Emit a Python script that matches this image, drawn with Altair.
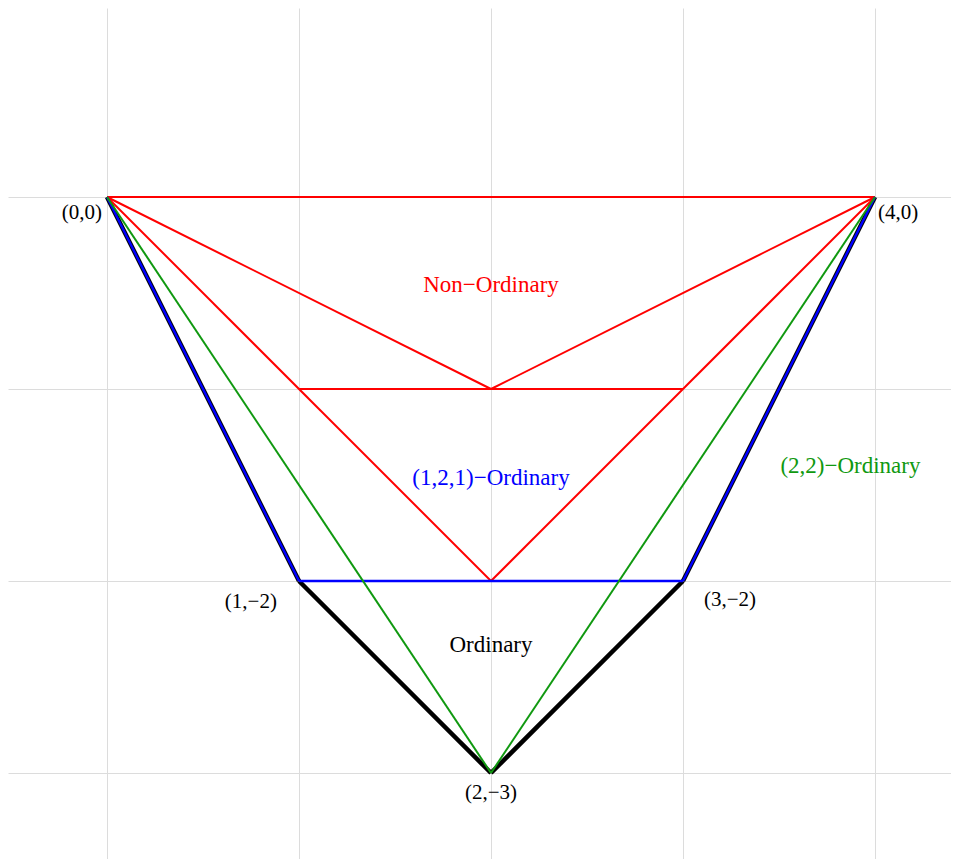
import altair as alt
import pandas as pd

# Segment data (x, y, x2, y2) per group
black_x  = [0, 1, 2, 3]
black_y  = [0, -2, -3, -2]
black_x2 = [1, 2, 3, 4]
black_y2 = [-2, -3, -2, 0]

red_x  = [0, 0, 2, 0, 4, 1]
red_y  = [0, 0, -1, 0, 0, -1]
red_x2 = [4, 2, 4, 2, 2, 3]
red_y2 = [0, -1, 0, -2, -2, -1]

blue_x  = [0, 1, 3]
blue_y  = [0, -2, -2]
blue_x2 = [1, 3, 4]
blue_y2 = [-2, -2, 0]

green_x  = [0, 2]
green_y  = [0, -3]
green_x2 = [2, 4]
green_y2 = [-3, 0]

# Point labels
pt_text  = ["(0,0)", "(4,0)", "(1,\u22122)", "(3,\u22122)", "(2,\u22123)"]
pt_x     = [-0.026, 4.016, 0.885, 3.109, 2.0]
pt_y     = [-0.083, -0.083, -2.109, -2.099, -3.104]
pt_align = ["right", "left", "right", "left", "center"]

# Region labels
rg_text  = ["Non\u2212Ordinary", "(1,2,1)\u2212Ordinary", "Ordinary", "(2,2)\u2212Ordinary"]
rg_x     = [2.0, 2.0, 2.0, 3.872]
rg_y     = [-0.458, -1.464, -2.333, -1.401]
rg_color = ["#ff0000", "#0000ff", "#000000", "#109910"]

xdom = [-0.515625, 4.395833]
ydom = [-3.447917, 0.984375]

xs = alt.Scale(domain=xdom, nice=False, zero=False)
ys = alt.Scale(domain=ydom, nice=False, zero=False)
xaxis = alt.Axis(values=[0, 1, 2, 3, 4], labels=False, ticks=False, domain=False,
                 title=None, grid=True, gridColor="#dcdcdc", gridWidth=1)
yaxis = alt.Axis(values=[0, -1, -2, -3], labels=False, ticks=False, domain=False,
                 title=None, grid=True, gridColor="#dcdcdc", gridWidth=1)


def seg_layer(x, y, x2, y2, color, width):
    df = pd.DataFrame({"x": x, "y": y, "x2": x2, "y2": y2})
    return alt.Chart(df).mark_rule(color=color, strokeWidth=width, strokeCap="butt").encode(
        x=alt.X("x:Q", scale=xs, axis=xaxis),
        y=alt.Y("y:Q", scale=ys, axis=yaxis),
        x2="x2:Q",
        y2="y2:Q",
    )


black = seg_layer(black_x, black_y, black_x2, black_y2, "#000000", 4.5)
red = seg_layer(red_x, red_y, red_x2, red_y2, "#ff0000", 2)
blue = seg_layer(blue_x, blue_y, blue_x2, blue_y2, "#0000ff", 2.5)
green = seg_layer(green_x, green_y, green_x2, green_y2, "#109910", 2)

pt_layers = []
for t, x, y, a in zip(pt_text, pt_x, pt_y, pt_align):
    pt_layers.append(
        alt.Chart(pd.DataFrame({"x": [x], "y": [y], "t": [t]})).mark_text(
            font="Liberation Serif", fontSize=21, align=a, baseline="middle", color="#000000"
        ).encode(x=alt.X("x:Q", scale=xs, axis=xaxis), y=alt.Y("y:Q", scale=ys, axis=yaxis), text="t:N")
    )

rg_layers = []
for t, x, y, c in zip(rg_text, rg_x, rg_y, rg_color):
    rg_layers.append(
        alt.Chart(pd.DataFrame({"x": [x], "y": [y], "t": [t]})).mark_text(
            font="Liberation Serif", fontSize=23, align="center", baseline="middle", color=c
        ).encode(x=alt.X("x:Q", scale=xs, axis=xaxis), y=alt.Y("y:Q", scale=ys, axis=yaxis), text="t:N")
    )

chart = alt.layer(black, red, blue, green, *pt_layers, *rg_layers).properties(
    width=943, height=851, padding=0, background="#ffffff"
).configure_view(stroke=None)

chart.save("out.html", embed_options={"renderer": "svg", "actions": False})
